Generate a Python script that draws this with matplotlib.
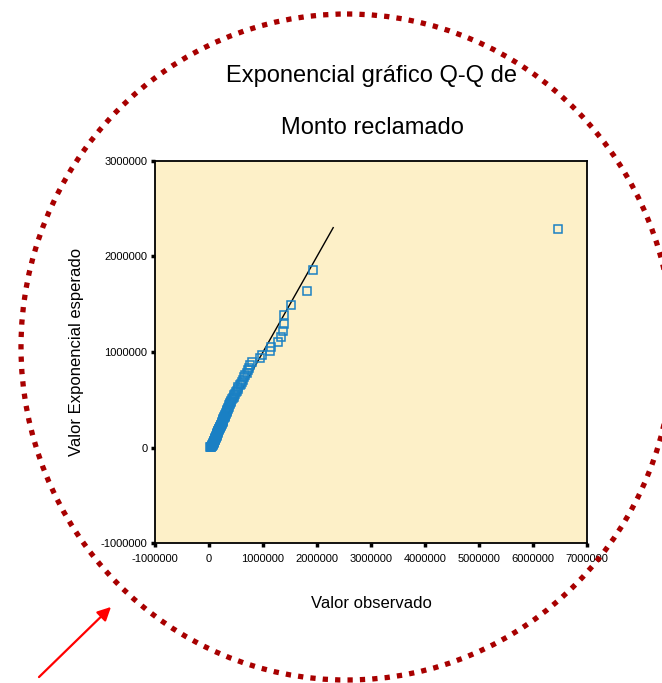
import matplotlib
matplotlib.use("Agg")
import matplotlib.pyplot as plt
from matplotlib.patches import Ellipse
import numpy as np

plt.rcParams['font.family'] = ['Liberation Sans', 'DejaVu Sans']

# Q-Q data (values in thousands), sorted by rank
observado = [25, 32, 40, 48, 55, 60, 65, 70, 75, 80,
             84, 88, 92, 96, 100, 104, 108, 112, 116, 120,
             124, 128, 132, 136, 140, 144, 148, 152, 156, 160,
             165, 170, 175, 180, 185, 190, 196, 202, 208, 214,
             220, 226, 232, 238, 244, 250, 256, 262, 268, 275,
             282, 289, 296, 303, 310, 318, 326, 334, 342, 350,
             358, 367, 376, 385, 395, 405, 416, 428, 440, 455,
             470, 485, 500, 515, 530, 545, 565, 585, 605, 630,
             655, 675, 695, 715, 740, 760, 790, 940, 973, 1130,
             1145, 1275, 1337, 1375, 1385, 1395, 1510, 1818, 1923, 6468]
esperado = [2.8, 7.4, 11.9, 16.6, 21.3, 26.0, 30.8, 35.6, 40.5, 45.4,
            50.4, 55.5, 60.6, 65.7, 71.0, 76.2, 81.6, 87.0, 92.5, 98.0,
            103.7, 109.3, 115.1, 120.9, 126.8, 132.8, 138.9, 145.1, 151.3, 157.6,
            164.0, 170.6, 177.2, 183.9, 190.7, 197.6, 204.6, 211.7, 219.0, 226.3,
            233.8, 241.4, 249.2, 257.0, 265.1, 273.2, 281.5, 290.0, 298.6, 307.4,
            316.4, 325.6, 334.9, 344.5, 354.2, 364.2, 374.4, 384.8, 395.5, 406.5,
            417.7, 429.2, 441.0, 453.1, 465.6, 478.4, 491.6, 505.2, 519.2, 533.6,
            548.6, 564.0, 580.0, 596.6, 613.8, 631.8, 650.4, 669.9, 690.2, 711.5,
            733.9, 757.4, 782.3, 808.5, 836.5, 866.2, 898.1, 932.4, 969.5, 1010.0,
            1054.5, 1103.9, 1159.3, 1222.6, 1296.2, 1384.3, 1493.9, 1639.2, 1855.0, 2284.9]
linea_ref = [360000, 2300000]

x_ticks = [-1000000, 0, 1000000, 2000000, 3000000, 4000000, 5000000, 6000000, 7000000]
y_ticks = [-1000000, 0, 1000000, 2000000, 3000000]

obs = np.array(observado) * 1000
esp = np.array(esperado) * 1000

W, H = 662, 683
fig = plt.figure(figsize=(W / 100, H / 100), dpi=100)
ax = fig.add_axes([155 / W, 1 - 543.3 / H, 432 / W, 382.6 / H])
ax.set_facecolor('#fdf0c8')

ax.plot(linea_ref, linea_ref, color='black', lw=1, zorder=2)
ax.plot(obs, esp, linestyle='none', marker='s', markersize=5.2,
        markerfacecolor='none', markeredgecolor='#1a80c4', markeredgewidth=1.1, zorder=3)

ax.set_xlim(-1000000, 7000000)
ax.set_ylim(-1000000, 3000000)
ax.set_xticks(x_ticks)
ax.set_yticks(y_ticks)
ax.set_xticklabels([str(t) for t in x_ticks])
ax.set_yticklabels([str(t) for t in y_ticks])
ax.tick_params(axis='both', direction='out', length=3, width=2.5, labelsize=8, color='black')
ax.tick_params(axis='x', pad=5)
ax.tick_params(axis='y', pad=2.5)
for s in ax.spines.values():
    s.set_linewidth(1.3)
    s.set_color('black')

# titles and axis labels
fig.text(372 / W, 1 - 76 / H, 'Exponencial gráfico Q-Q de', ha='center', va='center', fontsize=17)
fig.text(372 / W, 1 - 128 / H, 'Monto reclamado', ha='center', va='center', fontsize=17)
fig.text(371 / W, 1 - 603 / H, 'Valor observado', ha='center', va='center', fontsize=12)
fig.text(77 / W, 1 - 352 / H, 'Valor Exponencial esperado', ha='center', va='center',
         rotation=90, fontsize=12)

# overlay annotations (dotted circle and arrow), in pixel coordinates
ov = fig.add_axes([0, 0, 1, 1])
ov.set_xlim(0, W)
ov.set_ylim(H, 0)
ov.axis('off')
ov.patch.set_alpha(0)
ov.add_patch(Ellipse((347, 347), 2 * 326, 2 * 333, fill=False, edgecolor='#a80000',
                     linewidth=3.8, linestyle=(0, (1, 1.35))))
ov.annotate('', xy=(113, 605), xytext=(37, 679),
            arrowprops=dict(arrowstyle='-|>', color='#ff0000', lw=1.6, mutation_scale=20))

fig.savefig('out.png', dpi=100)
